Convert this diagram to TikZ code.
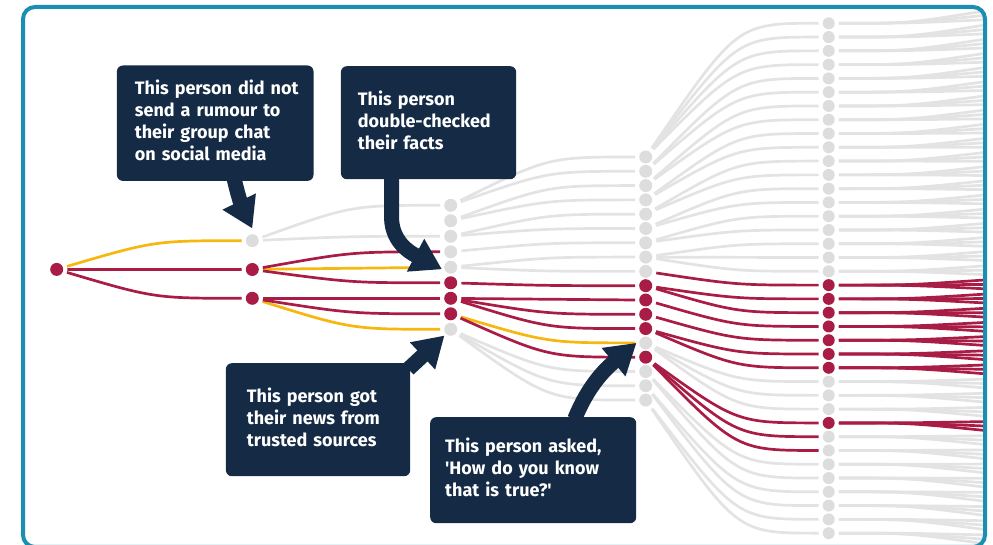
\documentclass[tikz,border=0pt]{standalone}
\usepackage{fontspec}
\setmainfont{Fira Sans}
\usetikzlibrary{arrows.meta, calc}

\definecolor{navy}{HTML}{152B45}
\definecolor{rumour}{HTML}{A91C45}
\definecolor{stopped}{HTML}{F6B70F}
\definecolor{quiet}{HTML}{E3E3E3}
\definecolor{quietdot}{HTML}{DDDDDD}
\definecolor{border}{HTML}{1A8FB0}

% one curved share line, from a person to the next one
\newcommand\share[3][]{\draw[link,#1] let \p1=(#2), \p2=(#3) in (#2) .. controls ({(\x1+\x2)/2},\y2) .. (#3);}
% flat share line running out to the frame edge
\newcommand\spread[3][]{\draw[link,shorten >=0pt,#1] let \p1=(#2), \p2=(#3) in (#2) .. controls ({(\x1+\x2)/2},\y1) .. (#3);}

\begin{document}
\begin{tikzpicture}[
  x=1pt, y=1pt,
  person/.style={circle, inner sep=0pt, minimum size=13pt, fill=#1},
  person/.default=quietdot,
  link/.style={line width=2.7pt, draw=quiet, shorten <=4pt, shorten >=4pt},
  callout/.style={fill=navy, text=white, rounded corners=6pt, anchor=north west, inner ysep=0pt,
    align=left, font=\bfseries\fontsize{18}{22}\selectfont},
  pointer/.style={draw=navy, line width=15pt, -{Triangle[length=30pt, width=35pt]}}
]
\useasboundingbox (0,0) rectangle (993,545);

% people, round by round
\node[person=rumour] (l0) at (56.7,275.6) {};
\foreach \i/\tone in {0/quietdot, 1/rumour, 2/rumour}
  \node[person=\tone] (l1-\i) at (252.3,304.3-28.8*\i) {};
\foreach \i/\tone in {0/quietdot, 1/quietdot, 2/quietdot, 3/quietdot, 4/quietdot, 5/rumour, 6/rumour, 7/rumour, 8/quietdot}
  \node[person=\tone] (l2-\i) at (450.7,339.7-15.5*\i) {};
\foreach \i in {0,...,17}{
  \pgfmathtruncatemacro\hot{(\i>8 && \i<13) || \i==14}
  \ifnum\hot=1 \def\tone{rumour}\else\def\tone{quietdot}\fi
  \node[person=\tone] (l3-\i) at (645.7,388-14.3*\i) {};
}
\foreach \i in {0,...,37}{
  \pgfmathtruncatemacro\hot{(\i>18 && \i<26) || \i==29}
  \ifnum\hot=1 \def\tone{rumour}\else\def\tone{quietdot}\fi
  \node[person=\tone, minimum size=12pt] (l4-\i) at (828.7,521.7-13.78*\i) {};
}
\foreach \j in {0,...,113}
  \coordinate (l5-\j) at (990,535-4.73*\j);

% shares that went nowhere
\foreach \a/\b in {l1-0/l2-0, l1-0/l2-2,
  l2-0/l3-0, l2-0/l3-1, l2-1/l3-2, l2-1/l3-3, l2-2/l3-4, l2-2/l3-5, l2-3/l3-6,
  l2-4/l3-7, l2-4/l3-8, l2-8/l3-15, l2-8/l3-16, l2-8/l3-17,
  l3-0/l4-0, l3-0/l4-1, l3-0/l4-2, l3-0/l4-3, l3-1/l4-4, l3-1/l4-5, l3-2/l4-6, l3-2/l4-7,
  l3-3/l4-8, l3-3/l4-9, l3-4/l4-10, l3-4/l4-11, l3-5/l4-12, l3-5/l4-13, l3-6/l4-14, l3-6/l4-15,
  l3-7/l4-16, l3-7/l4-17, l3-7/l4-18, l3-13/l4-26, l3-13/l4-27, l3-13/l4-28,
  l3-15/l4-32, l3-15/l4-33, l3-16/l4-34, l3-16/l4-35, l3-17/l4-36, l3-17/l4-37}
  \share{\a}{\b};

% into the frame edge
\begin{scope}
  \clip[rounded corners=12pt] (23,-2) rectangle (985,538);
  \foreach \i in {0,...,37}{
    \pgfmathtruncatemacro\hot{(\i>18 && \i<26) || \i==29}
    \ifnum\hot=0
      \foreach \k in {0,1,2}{\pgfmathtruncatemacro\j{3*\i+\k}\spread{l4-\i}{l5-\j}}
    \fi
  }
  \foreach \i in {19,...,25,29}{
    \foreach \k in {0,1,2}{\pgfmathtruncatemacro\j{3*\i+\k}\spread[draw=rumour]{l4-\i}{l5-\j}}
  }
\end{scope}

% stopped
\foreach \a/\b in {l0/l1-0, l1-1/l2-4, l1-2/l2-8, l2-7/l3-13}
  \share[draw=stopped]{\a}{\b};

% passed on
\foreach \a/\b in {l0/l1-1, l0/l1-2, l1-1/l2-3, l1-1/l2-5, l1-2/l2-6, l1-2/l2-7,
  l2-5/l3-9, l2-6/l3-10, l2-6/l3-11, l2-6/l3-12, l2-7/l3-14,
  l3-8/l4-19, l3-9/l4-20, l3-9/l4-21, l3-10/l4-22, l3-11/l4-23, l3-12/l4-24, l3-12/l4-25,
  l3-14/l4-29, l3-14/l4-30, l3-14/l4-31}
  \share[draw=rumour]{\a}{\b};

\draw[border, line width=4pt, rounded corners=12pt] (23,-2) rectangle (985,538);

% callouts
\node[callout, text width=160.6pt, inner xsep=18pt, minimum height=115.4pt] (b1) at (116.7,479.7)
  {\begin{tabular}{@{}l@{}}This person did not\\send a rumour to\\their group chat\\on social media\end{tabular}};
\node[callout, text width=141.3pt, inner xsep=17pt, minimum height=113pt] (b2) at (340.7,479)
  {\begin{tabular}{@{}l@{}}This person\\double-checked\\their facts\end{tabular}};
\node[callout, text width=142.3pt, inner xsep=21pt, minimum height=113pt] (b3) at (225.7,182)
  {\begin{tabular}{@{}l@{}}This person got\\their news from\\trusted sources\end{tabular}};
\node[callout, text width=176pt, inner xsep=15pt, minimum height=106pt] (b4) at (430,128)
  {\begin{tabular}{@{}l@{}}This person asked,\\\textquotesingle How do you know\\that is true?\textquotesingle\end{tabular}};

\draw[pointer] ([xshift=19pt,yshift=2pt]b1.south) to[out=-77, in=116] ([yshift=5.5pt]l1-0.north);
\draw[pointer] ([xshift=-37pt,yshift=2pt]b2.south) -- ++(0,-40) to[out=-90, in=152] ([shift={(-2pt,-2pt)}]l2-4.west);
\draw[pointer] ([shift={(-2pt,-6pt)}]b3.north east) -- ([shift={(-1.5pt,-1.5pt)}]l2-8.225);
\draw[pointer] ([xshift=41.5pt,yshift=-2pt]b4.north) to[out=68, in=220] ([xshift=-2.5pt]l3-13.west);

\end{tikzpicture}
\end{document}
